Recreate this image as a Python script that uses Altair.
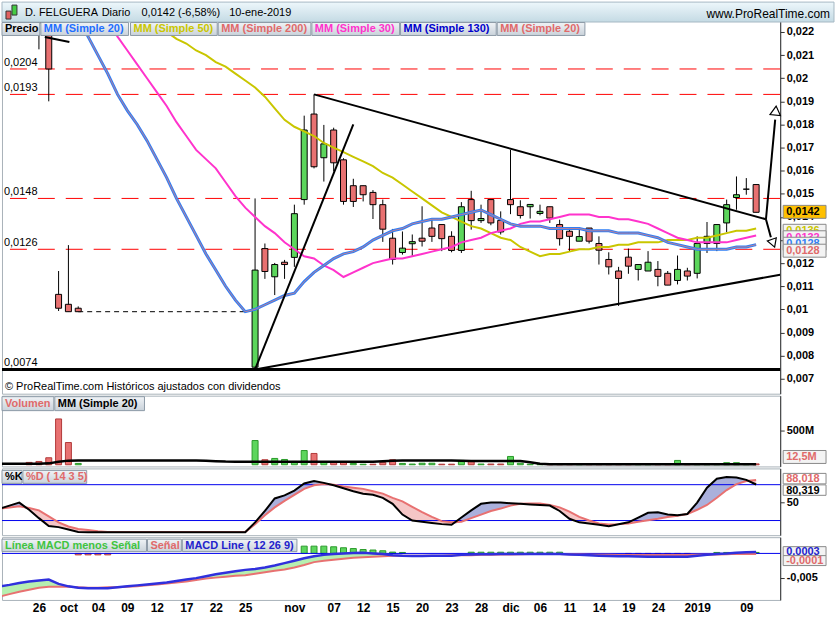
import altair as alt
import pandas as pd
import numpy as np

FONT = "Liberation Sans"

# ---------------- data ----------------
first_index = -3
dates = [
    "20-sep", "21-sep", "24-sep", "25-sep", "26-sep", "27-sep", "28-sep",
    "01-oct", "02-oct", "03-oct", "04-oct", "05-oct", "08-oct", "09-oct", "10-oct", "11-oct", "12-oct",
    "15-oct", "16-oct", "17-oct", "18-oct", "19-oct", "22-oct", "23-oct", "24-oct", "25-oct", "26-oct",
    "29-oct", "30-oct", "31-oct",
    "01-nov", "02-nov", "05-nov", "06-nov", "07-nov", "08-nov", "09-nov", "12-nov", "13-nov", "14-nov",
    "15-nov", "16-nov", "19-nov", "20-nov", "21-nov", "22-nov", "23-nov", "26-nov", "27-nov", "28-nov",
    "29-nov", "30-nov",
    "03-dic", "04-dic", "05-dic", "06-dic", "07-dic", "10-dic", "11-dic", "12-dic", "13-dic", "14-dic",
    "17-dic", "18-dic", "19-dic", "20-dic", "21-dic", "24-dic", "27-dic", "28-dic", "31-dic",
    "02-ene", "03-ene", "04-ene", "07-ene", "08-ene", "09-ene", "10-ene"]

N17 = [None] * 17
opens = [None, None, None,
         0.0255, 0.0236, 0.0222, 0.01065, 0.01022, 0.01005] + N17 + [
         0.0075, 0.01263, 0.01141, 0.01204, 0.01225, 0.01475, 0.01845, 0.01656, 0.01776, 0.01647,
         0.01535, 0.01535, 0.01506, 0.01453, 0.01308, 0.01246, 0.01284, 0.01308, 0.01352, 0.01367,
         0.01316, 0.01255, 0.01475, 0.01384, 0.01475, 0.01385, 0.01475, 0.01444, 0.01444, 0.01415,
         0.01444, 0.01367, 0.01338, 0.01295, 0.01352, 0.01285, 0.01216, 0.01166, 0.01226, 0.01173,
         0.01166, 0.01173, 0.01156, 0.01125, 0.01166, 0.01156, 0.01285, 0.01285, 0.01374, 0.01484,
         0.0152, 0.0154]
highs = [None, None, None,
         0.0262, 0.0240, 0.0226, 0.01166, 0.01278, 0.01013] + N17 + [
         0.0148, 0.01285, 0.01201, 0.01214, 0.01453, 0.01838, 0.0193, 0.01798, 0.01786, 0.01654,
         0.01565, 0.01535, 0.01516, 0.01475, 0.01348, 0.01337, 0.01324, 0.01446, 0.01393, 0.01367,
         0.01338, 0.01464, 0.01513, 0.01453, 0.01475, 0.01424, 0.0169, 0.01472, 0.01454, 0.01453,
         0.01444, 0.01388, 0.01349, 0.0135, 0.01352, 0.01316, 0.01247, 0.01184, 0.01263, 0.01194,
         0.01252, 0.01209, 0.01166, 0.01233, 0.0118, 0.01316, 0.01378, 0.01367, 0.01475, 0.01575,
         0.01568, 0.0154]
lows = [None, None, None,
        0.0226, 0.02125, 0.0190, 0.00993, 0.0099, 0.0099] + N17 + [
        0.0074, 0.01132, 0.01062, 0.01132, 0.01184, 0.01453, 0.0161, 0.01553, 0.01597, 0.01453,
        0.01443, 0.01467, 0.01391, 0.01292, 0.01194, 0.01237, 0.0123, 0.01272, 0.01292, 0.01252,
        0.01247, 0.01244, 0.01345, 0.01374, 0.01364, 0.01324, 0.01412, 0.01393, 0.01393, 0.01407,
        0.01374, 0.01276, 0.01252, 0.01295, 0.01285, 0.01194, 0.01151, 0.01015, 0.01154, 0.01125,
        0.01166, 0.011, 0.01105, 0.01108, 0.01125, 0.01134, 0.01244, 0.01252, 0.01334, 0.01431,
        0.01496, 0.0142]
closes = [None, None, None,
          0.0232, 0.0224, 0.0204, 0.01005, 0.0099, 0.0099] + N17 + [
          0.0117, 0.01164, 0.01194, 0.01194, 0.01414, 0.01776, 0.01617, 0.01716, 0.01634, 0.01467,
          0.01467, 0.01496, 0.01453, 0.01347, 0.01216, 0.01265, 0.01293, 0.01295, 0.01316, 0.01306,
          0.01255, 0.01444, 0.01384, 0.01393, 0.01374, 0.01335, 0.01453, 0.01406, 0.01454, 0.01424,
          0.01395, 0.01306, 0.01316, 0.01315, 0.01295, 0.01256, 0.01184, 0.01134, 0.01187, 0.01194,
          0.01204, 0.01143, 0.01105, 0.01173, 0.01144, 0.01285, 0.01316, 0.01367, 0.01453, 0.01496,
          0.0152, 0.0142]

ma20 = [0.0268, 0.0264, 0.0260, 0.0256, 0.0251, 0.0246, 0.0240, 0.0233, 0.0226, 0.0218, 0.0210,
        0.0202, 0.0193, 0.0186, 0.0180, 0.0173, 0.0165, 0.0157, 0.0148, 0.0140, 0.0132, 0.0124,
        0.0117, 0.0110, 0.0104, 0.0099, 0.0100, 0.0102, 0.0104, 0.0106, 0.0107, 0.0112, 0.0116,
        0.0119, 0.0122, 0.0124, 0.0125, 0.0127, 0.0130, 0.0132, 0.0134, 0.0135, 0.0137, 0.0138,
        0.0139, 0.0139, 0.0140, 0.0141, 0.0142, 0.0143, 0.0141, 0.0139, 0.0137, 0.0136, 0.0136,
        0.0136, 0.0135, 0.0135, 0.0135, 0.0135, 0.0134, 0.0134, 0.0134, 0.0133, 0.0133, 0.0133,
        0.0132, 0.0131, 0.0129, 0.0128, 0.0127, 0.0126, 0.0126, 0.0126, 0.0126, 0.0127, 0.0127,
        0.0128]
ma30 = [0.0264, 0.0262, 0.0260, 0.0258, 0.0256, 0.0253, 0.0250, 0.0246, 0.0242, 0.0237, 0.0231,
        0.0225, 0.0218, 0.0212, 0.0206, 0.0200, 0.0194, 0.0188, 0.0181, 0.0175, 0.0169, 0.0165,
        0.0161, 0.0155, 0.0149, 0.0144, 0.0140, 0.0136, 0.0133, 0.0129, 0.0126, 0.0123, 0.0122,
        0.0119, 0.0117, 0.0114, 0.0116, 0.0118, 0.0120, 0.0121, 0.0122, 0.0122, 0.0123, 0.0124,
        0.0125, 0.0126, 0.0127, 0.0129, 0.0130, 0.0131, 0.0133, 0.0134, 0.0135, 0.0137, 0.0138,
        0.0138, 0.0139, 0.0140, 0.0141, 0.0141, 0.0141, 0.0140, 0.0140, 0.0139, 0.0139, 0.0138,
        0.0137, 0.0135, 0.0133, 0.0131, 0.0130, 0.0129, 0.0129, 0.0129, 0.0129, 0.0130, 0.0131,
        0.0132]
ma50 = [0.0255, 0.0253, 0.0251, 0.0249, 0.0247, 0.0245, 0.0243, 0.0241, 0.0239, 0.0237, 0.0235,
        0.0233, 0.0231, 0.0229, 0.0227, 0.0224, 0.0222, 0.0220, 0.0217, 0.0215, 0.0212, 0.0210,
        0.0207, 0.0205, 0.0202, 0.0199, 0.0196, 0.0192, 0.0187, 0.0182, 0.0179, 0.0177, 0.0175,
        0.0172, 0.0170, 0.0168, 0.0166, 0.0164, 0.0162, 0.0159, 0.0157, 0.0154, 0.0151, 0.0148,
        0.0145, 0.0142, 0.0140, 0.0138, 0.0136, 0.0135, 0.0133, 0.0131, 0.0130, 0.0127, 0.0125,
        0.0123, 0.0124, 0.0124, 0.0125, 0.0126, 0.0126, 0.0127, 0.0127, 0.0128, 0.0128, 0.0129,
        0.0129, 0.0129, 0.0130, 0.0130, 0.0130, 0.0131, 0.0131, 0.0132, 0.0133, 0.0134, 0.0134,
        0.0135]

volume_m = [None, None, None, 34, 48, 102, 670, 325, 19] + N17 + [
    354, 73, 92, 77, 48, 208, 165, 44, 44, 34,
    19, 8, 8, 34, 73, 19, 10, 22, 22, 8,
    8, 63, 51, 10, 10, 10, 121, 22, 8, 6,
    6, 8, 6, 5, 6, 6, 6, 8, 6, 5,
    5, 6, 8, 63, 8, 15, 8, 8, 30, 30,
    5, 12.5]
volume_side = [None, None, None, "r", "r", "r", "r", "r", "g"] + N17 + [
    "g", "r", "g", "g", "g", "g", "r", "g", "r", "r",
    "g", "g", "r", "r", "r", "g", "g", "g", "g", "r",
    "r", "g", "r", "g", "r", "r", "g", "g", "g", "g",
    "r", "r", "r", "g", "r", "r", "r", "r", "r", "g",
    "g", "r", "r", "g", "r", "g", "g", "g", "g", "g",
    "g", "r"]
volume_ma = [14, 14, 14, 15, 16, 20, 45, 60, 62] + [63] * 12 + [60, 52, 46, 44, 44] + [44] * 13 + \
            [52, 60] + [62] * 6 + [60] + [55] * 6 + [35, 15] + [8] * 22

stoch_k = [40, 45, 50, 38, 24, 11, 9, 5, 1] + [0.5] * 17 + [
    17, 36, 57, 62, 70, 82, 86, 83, 79, 74,
    69, 65, 63, 58, 48, 30, 20, 18, 16, 14,
    13, 25, 37, 48, 50, 50, 49, 48, 47, 46,
    45, 36, 23, 17, 15, 13, 10.5, 13.8, 17, 25,
    33, 34, 30, 29, 31, 50, 75, 90, 92.7, 92,
    88, 80.3]
stoch_d = [40, 42, 44, 41, 37, 27, 17, 10, 6, 4, 2] + [1] * 15 + [
    14, 29, 42, 53, 63, 73, 79, 81, 80, 77,
    75, 73, 69, 65, 58, 52, 43, 34, 26, 19,
    17, 18, 24, 30, 36, 40, 45, 48, 48.5, 48.5,
    46, 42, 35, 26, 20, 15, 13.5, 14, 15, 18,
    20.5, 23, 26, 28, 31, 38, 46, 58, 71, 81,
    86, 88.0]

macd_line = [-0.0068, -0.0065, -0.0061, -0.0058, -0.0056, -0.0054, -0.0063, -0.0068, -0.0071,
             -0.0072, -0.0072, -0.0072, -0.0070, -0.0068, -0.0066, -0.0064, -0.0062, -0.0060,
             -0.0057, -0.0054, -0.0051, -0.0047, -0.0043, -0.0040, -0.0037, -0.0034,
             -0.0032, -0.0029, -0.0025, -0.0020, -0.0015, -0.0010, -0.0006, -0.0003, -0.0001, 0.0,
             0.0001, 0.00014, 0.0, -0.00014, -0.0004, -0.0005, -0.00055, -0.00055, -0.0005, -0.0005,
             -0.00048, -0.0003, -0.0002, -0.00016, -0.00015, -0.00014, -0.00014, -0.00012, -0.0001, -0.0001,
             -0.00012, -0.00014, -0.0002, -0.0003, -0.0004, -0.00048, -0.00055, -0.0006, -0.0006, -0.00065,
             -0.0007, -0.0007, -0.0007, -0.0007, -0.0007, -0.0005, -0.0003, -0.0001, 0.0, 0.00015,
             0.00025, 0.0003]
macd_signal = [-0.0089, -0.0084, -0.0079, -0.0075, -0.0071, -0.0069, -0.0069, -0.0069, -0.0070,
               -0.0071, -0.0071, -0.0070, -0.0070, -0.0069, -0.0068, -0.0066, -0.0064, -0.0062,
               -0.0060, -0.0058, -0.0055, -0.0052, -0.0050, -0.0048, -0.0046, -0.0045,
               -0.0042, -0.0039, -0.0036, -0.0033, -0.0029, -0.0024, -0.0018, -0.0015, -0.0013, -0.0011,
               -0.0009, -0.0008, -0.0007, -0.0006, -0.0005, -0.0005, -0.0005, -0.0005, -0.0005, -0.0005,
               -0.0004, -0.0004, -0.0004, -0.0003, -0.0003, -0.0002, -0.0002, -0.00015, -0.00014, -0.00014,
               -0.00014, -0.00014, -0.00016, -0.0002, -0.00025, -0.0003, -0.0003, -0.00035, -0.00035, -0.00035,
               -0.00035, -0.00035, -0.00035, -0.00035, -0.00035, -0.0003, -0.00025, -0.0002, -0.00015, -0.00008,
               -0.0001, -0.0001]
macd_hist = [None] * 8 + [-0.0003, -0.0003, -0.0003, -0.0003] + [None] * 19 + [
    0.0015, 0.0015, 0.0015, 0.00137, 0.00117, 0.001, 0.0008, 0.0007, 0.00055, 0.00027, 0.0002] + \
    [None] * 6 + [0.00025] * 10 + [None] * 6 + [-0.0001] * 7 + [None, None] + [0.0002] * 5

tick_dates = ["26-sep", "01-oct", "04-oct", "09-oct", "12-oct", "17-oct", "22-oct", "25-oct",
              "01-nov", "07-nov", "12-nov", "15-nov", "20-nov", "23-nov", "28-nov", "03-dic",
              "06-dic", "11-dic", "14-dic", "19-dic", "24-dic", "02-ene", "09-ene"]
tick_text = ["26", "oct", "04", "09", "12", "17", "22", "25", "nov", "07", "12", "15", "20", "23",
             "28", "dic", "06", "11", "14", "19", "24", "2019", "09"]

level_prices = [0.0204, 0.0193, 0.0148, 0.0126]
level_text = ["0,0204", "0,0193", "0,0148", "0,0126"]
support_price = 0.0074
suspension = {"i0": [5], "i1": [22], "p": [0.0099]}

trend_seg = ["a", "a", "b", "b", "c", "c", "e", "e", "up", "up", "dn", "dn"]
trend_i = [29, 75.0, 23, 33.0, 23, 76.45, 1.6, 4.1, 75.0, 75.94, 75.0, 75.5]
trend_p = [0.0193, 0.0139, 0.0074, 0.0180, 0.0074, 0.0115, 0.02178, 0.02157, 0.0139, 0.01821, 0.0139, 0.01312]

price_ticks = [0.007, 0.008, 0.009, 0.01, 0.011, 0.012, 0.013, 0.014, 0.015, 0.016, 0.017,
               0.018, 0.019, 0.02, 0.021, 0.022]

# ---------------- frames ----------------
idx = list(range(first_index, first_index + len(dates)))
df = pd.DataFrame({"i": idx, "date": dates, "open": opens, "high": highs, "low": lows,
                   "close": closes, "ma20": ma20, "ma30": ma30, "ma50": ma50,
                   "vol": volume_m, "vside": volume_side, "vma": volume_ma,
                   "k": stoch_k, "d": stoch_d, "macd": macd_line, "sig": macd_signal,
                   "hist": macd_hist})
candles = df.dropna(subset=["open"]).copy()
candles["dir"] = np.where(candles["close"] > candles["open"], "up",
                          np.where(candles["close"] < candles["open"], "down", "flat"))
vols = df.dropna(subset=["vol"]).copy()
hists = df.dropna(subset=["hist"]).copy()
hists["hs"] = np.where(hists["hist"] > 0, "g", "r")
levels = pd.DataFrame({"p": level_prices, "t": level_text})
trend = pd.DataFrame({"seg": trend_seg, "i": trend_i, "p": trend_p})
one = pd.DataFrame({"k": [0]})

W = 781
xscale = alt.Scale(domain=[-2.76, 76.45], nice=False, zero=False, padding=0)
XN = alt.X("i:Q", scale=xscale, axis=None, title=None)


def grad(c0, c1):
    return alt.Gradient(gradient="linear",
                        stops=[alt.GradientStop(offset=0, color=c0), alt.GradientStop(offset=1, color=c1)],
                        x1=0, x2=0, y1=0, y2=1)


def vbox(x0, x1, y0, y1, fill, stroke="#8d9ba7", sw=1):
    return alt.Chart(one).mark_rect(fill=fill, stroke=stroke, strokeWidth=sw).encode(
        x=alt.value(x0), x2=alt.value(x1), y=alt.value(y0), y2=alt.value(y1))


def vtext(x, y, s, color="black", size=11, weight="bold", align="left"):
    return alt.Chart(one).mark_text(text=s, color=color, fontSize=size, fontWeight=weight,
                                    align=align, baseline="middle", font=FONT).encode(
        x=alt.value(x), y=alt.value(y))


def legend_row(items, y0, y1):
    out = []
    for txt, x0, x1, col in items:
        out.append(vbox(x0, x1, y0, y1, grad("#f0f3f6", "#c9d2da")))
        out.append(vtext(x0 + 3, (y0 + y1) / 2 + 0.5, txt, col))
    return out


def value_boxes(items, x0=784, x1=827):
    out = []
    for txt, col, fill, y0, y1 in items:
        out.append(vbox(x0, x1, y0, y1, fill, stroke="#8a8a8a"))
        out.append(vtext(x0 + 3, (y0 + y1) / 2 + 0.5, txt, col))
    return out


RED = "#e87171"
GREEN = "#5cd65c"
SALMON = "#e06a6a"

# ---------------- main price panel ----------------
ymain = alt.Scale(domain=[0.006353, 0.023293], nice=False, zero=False, padding=0)
main_axis = alt.Axis(orient="right", values=price_ticks, title=None, tickSize=4,
                     labelExpr="replace(format(datum.value, '.3~f'), '.', ',')", labelPadding=2)


def YM(f):
    return alt.Y(f"{f}:Q", scale=ymain, axis=main_axis, title=None)


base = alt.Chart(df)
m_levels = alt.Chart(levels).mark_rule(color="#ff0000", strokeDash=[17, 11], strokeWidth=1).encode(y=YM("p"))
m_support = alt.Chart(pd.DataFrame({"p": [support_price]})).mark_rule(color="black", strokeWidth=3).encode(y=YM("p"))
m_susp = alt.Chart(pd.DataFrame(suspension)).mark_rule(color="black", strokeDash=[5, 4], strokeWidth=1).encode(
    x=alt.X("i0:Q", scale=xscale, axis=None), x2="i1:Q", y=YM("p"))
m_wick = alt.Chart(candles).mark_rule(color="black", strokeWidth=1, clip=True).encode(
    x=XN, y=YM("low"), y2="high")
m_body = alt.Chart(candles).mark_bar(size=6, stroke="black", strokeWidth=1, clip=True).encode(
    x=XN, y=YM("open"), y2="close",
    color=alt.Color("dir:N", scale=alt.Scale(domain=["up", "down", "flat"], range=[GREEN, RED, "#000000"]), legend=None))
m_ma50 = base.mark_line(color="#c9c600", strokeWidth=2, clip=True).encode(x=XN, y=YM("ma50"))
m_ma30 = base.mark_line(color="#ff33cc", strokeWidth=2, clip=True).encode(x=XN, y=YM("ma30"))
m_ma20 = base.mark_line(color="#2f7ff5", strokeWidth=3, clip=True).encode(x=XN, y=YM("ma20"))
m_ma20r = base.mark_line(color="#e08080", strokeWidth=0.8, clip=True).encode(x=XN, y=YM("ma20"))
m_trend = alt.Chart(trend).mark_line(color="black", strokeWidth=2, clip=True).encode(x=XN, y=YM("p"), detail="seg:N")
m_arrow_up = alt.Chart(pd.DataFrame({"i": [75.99], "p": [0.0186]})).mark_point(
    shape="triangle-up", filled=True, fill="white", stroke="black", strokeWidth=1.2, size=110, angle=6, opacity=1
).encode(x=XN, y=YM("p"))
m_arrow_dn = alt.Chart(pd.DataFrame({"i": [75.74], "p": [0.01286]})).mark_point(
    shape="triangle-down", filled=True, fill="white", stroke="black", strokeWidth=1.2, size=90, angle=340, opacity=1
).encode(x=XN, y=YM("p"))
m_level_txt = alt.Chart(pd.concat([levels, pd.DataFrame({"p": [support_price], "t": ["0,0074"]})])).mark_text(
    align="left", baseline="bottom", dy=-1, fontSize=11, font=FONT, color="black"
).encode(x=alt.value(2), y=YM("p"), text="t:N")

main_layers = [m_levels, m_support, m_susp, m_wick, m_body, m_ma50, m_ma30, m_ma20, m_ma20r,
               m_trend, m_arrow_up, m_arrow_dn, m_level_txt]
main_layers += value_boxes([
    ("0,0142", "black", "#ffc000", 204, 217),
    ("0,0136", "#c9c600", "#f3f3f3", 223, 236),
    ("0,0132", "#ff33cc", "#f3f3f3", 229.5, 242.5),
    ("0,0128", "#2f7ff5", "#f3f3f3", 236, 249),
    ("0,0128", SALMON, "#f3f3f3", 243, 256),
])
main_layers += [vtext(3, 386, "© ProRealTime.com  Históricos ajustados con dividendos", size=11, weight="normal")]
# title bar
main_layers += [
    vbox(0, 835, 0, 20, grad("#edf7fb", "#c4dae4"), stroke="#a7b9c4"),
    vbox(4, 9, 9, 17, "#e06060", stroke="#333"),
    vbox(10, 15, 3, 13, "#44cc44", stroke="#333"),
    vtext(23, 11, "D. FELGUERA", size=11, weight="normal"),
    vtext(100, 11, "Diario", size=11, weight="normal"),
    vtext(140, 11, "0,0142 (-6,58%)", size=11, weight="normal"),
    vtext(228, 11, "10-ene-2019", size=11, weight="normal"),
    vtext(831, 12, "www.ProRealTime.com", size=12, weight="normal", align="right"),
]
main_layers += legend_row([
    ("Precio", 0, 38, "black"),
    ("MM (Simple 20)", 39, 127, "#1f6fff"),
    ("MM (Simple 50)", 129, 216, "#c9c600"),
    ("MM (Simple 200)", 217, 310, SALMON),
    ("MM (Simple 30)", 311, 399, "#ff33cc"),
    ("MM (Simple 130)", 400, 496, "#0000cc"),
    ("MM (Simple 20)", 497, 585, SALMON),
], 20.5, 33.5)

main = alt.layer(*main_layers).properties(width=W, height=393)

# ---------------- volume panel ----------------
yvol = alt.Scale(domain=[-24.8, 1010.4], nice=False, zero=False, padding=0)
vol_axis = alt.Axis(orient="right", values=[500], labelExpr="'500M'", title=None, tickSize=4, labelPadding=2)
v_bars = alt.Chart(vols).mark_bar(size=6, strokeWidth=1, clip=True).encode(
    x=XN, y=alt.Y("vol:Q", scale=yvol, axis=vol_axis, title=None), y2=alt.datum(0),
    color=alt.Color("vside:N", scale=alt.Scale(domain=["r", "g"], range=[RED, GREEN]), legend=None),
    stroke=alt.Stroke("vside:N", scale=alt.Scale(domain=["r", "g"], range=["#b23a3a", "#2a9a2a"]), legend=None))
v_ma = base.mark_line(color="black", strokeWidth=2.5, clip=True).encode(
    x=XN, y=alt.Y("vma:Q", scale=yvol, axis=vol_axis, title=None))
vol_layers = [v_bars, v_ma] + legend_row([("Volumen", 0, 52, SALMON), ("MM (Simple 20)", 53, 143, "black")], 1, 15)
vol_layers += value_boxes([("12,5M", SALMON, "#f3f3f3", 55, 68)])
vol = alt.layer(*vol_layers).properties(width=W, height=71)

# ---------------- stochastic panel ----------------
ystoch = alt.Scale(domain=[-4.5, 107.2], nice=False, zero=False, padding=0)
st_axis = alt.Axis(orient="right", values=[50], title=None, tickSize=4, labelPadding=2)


def YS(f):
    return alt.Y(f"{f}:Q", scale=ystoch, axis=st_axis, title=None)


s_base = base.transform_calculate(lo="min(datum.k, datum.d)")
s_fill_up = s_base.mark_area(color="#aab0dc", opacity=1, clip=True).encode(x=XN, y=YS("k"), y2="lo:Q")
s_fill_dn = s_base.mark_area(color="#f5c6c6", opacity=1, clip=True).encode(x=XN, y=YS("d"), y2="lo:Q")
s_rules = alt.Chart(pd.DataFrame({"v": [80, 20]})).mark_rule(color="#0000ee", strokeWidth=1).encode(y=YS("v"))
s_d = base.mark_line(color=RED, strokeWidth=2, clip=True).encode(x=XN, y=YS("d"))
s_k = base.mark_line(color="black", strokeWidth=2, clip=True).encode(x=XN, y=YS("k"))
st_layers = [s_fill_up, s_fill_dn, s_rules, s_d, s_k]
st_layers += legend_row([("%K", 0, 20, "black"), ("%D ( 14 3 5)", 21, 85, SALMON)], 2, 15)
st_layers += value_boxes([("88,018", SALMON, "#ffffff", 5, 15.5), ("80,319", "black", "#ffffff", 16.5, 27)])
stoch = alt.layer(*st_layers).properties(width=W, height=67)

# ---------------- MACD panel ----------------
ymacd = alt.Scale(domain=[-0.009609, 0.003354], nice=False, zero=False, padding=0)
mc_axis = alt.Axis(orient="right", values=[-0.005], labelExpr="'-0,005'", title=None, tickSize=4, labelPadding=2)
tick_idx = [dates.index(d) + first_index for d in tick_dates]
lab_arr = [""] * len(dates)
for ti, tt in zip(tick_idx, tick_text):
    lab_arr[ti - first_index] = tt
x_expr = "[" + ",".join("'" + s + "'" for s in lab_arr) + "][datum.value + " + str(-first_index) + "]"
x_axis = alt.Axis(values=tick_idx, labelExpr=x_expr, domain=False, ticks=False, labelPadding=3,
                  labelFontSize=12, labelOverlap=False, labelFlush=False, title=None)
XA = alt.X("i:Q", scale=xscale, axis=x_axis, title=None)


def YC(f):
    return alt.Y(f"{f}:Q", scale=ymacd, axis=mc_axis, title=None)


c_base = base.transform_calculate(lo="min(datum.macd, datum.sig)")
c_fill_up = c_base.mark_area(color="#b6efb0", opacity=1, clip=True).encode(x=XA, y=YC("macd"), y2="lo:Q")
c_fill_dn = c_base.mark_area(color="#f5c6c6", opacity=1, clip=True).encode(x=XA, y=YC("sig"), y2="lo:Q")
c_hist = alt.Chart(hists).mark_bar(size=6, strokeWidth=1, clip=True).encode(
    x=XA, y=YC("hist"), y2=alt.datum(0),
    color=alt.Color("hs:N", scale=alt.Scale(domain=["r", "g"], range=[RED, GREEN]), legend=None),
    stroke=alt.Stroke("hs:N", scale=alt.Scale(domain=["r", "g"], range=["#b23a3a", "#2a9a2a"]), legend=None))
c_zero = alt.Chart(pd.DataFrame({"v": [0.0]})).mark_rule(color="#0000ee", strokeWidth=1).encode(y=YC("v"))
c_sig = base.mark_line(color=RED, strokeWidth=2, clip=True).encode(x=XA, y=YC("sig"))
c_macd = base.mark_line(color="#3030dd", strokeWidth=2.5, clip=True).encode(x=XA, y=YC("macd"))
mc_layers = [c_fill_up, c_fill_dn, c_hist, c_zero, c_sig, c_macd]
mc_layers += legend_row([("Línea MACD menos Señal", 0, 145, "#3fc43f"), ("Señal", 146, 180, SALMON),
                         ("MACD Line ( 12 26 9)", 181, 296, "#2222cc")], 2, 14.5)
mc_layers += value_boxes([("0,0003", "#2222cc", "#f3f3f3", 9.5, 18.5), ("-0,0001", SALMON, "#f3f3f3", 18.5, 28.5)])
macd = alt.layer(*mc_layers).properties(width=W, height=63)

chart = alt.vconcat(main, vol, stoch, macd, spacing=2, bounds="flush").properties(padding=0, background="white")
chart = chart.resolve_scale(color="independent", stroke="independent")
chart = chart.configure_view(stroke="#a9b3ba", strokeWidth=1).configure_axis(
    labelFont=FONT, labelFontWeight="bold", labelFontSize=11, labelColor="black", grid=False,
    domainColor="#333333", tickColor="#333333")

chart.save("out.html", embed_options={"renderer": "svg", "actions": False})
